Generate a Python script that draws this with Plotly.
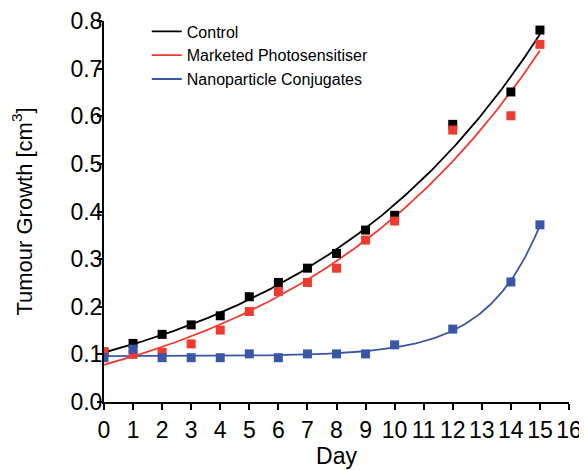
import numpy as np
import plotly.graph_objects as go

days = [0, 1, 2, 3, 4, 5, 6, 7, 8, 9, 10, 12, 14, 15]
control = [0.105, 0.123, 0.142, 0.162, 0.181, 0.221, 0.251, 0.281, 0.312, 0.361, 0.392, 0.583, 0.651, 0.781]
marketed = [0.104, 0.100, 0.104, 0.122, 0.151, 0.190, 0.232, 0.251, 0.281, 0.340, 0.380, 0.571, 0.601, 0.751]
nano = [0.093, 0.111, 0.093, 0.093, 0.093, 0.101, 0.093, 0.101, 0.101, 0.101, 0.120, 0.153, 0.252, 0.372]

names = ["Control", "Marketed Photosensitiser", "Nanoparticle Conjugates"]
colors = ["#000000", "#ee3a2f", "#3a56a6"]
x_ticks = list(range(0, 17))
y_ticks = [0.0, 0.1, 0.2, 0.3, 0.4, 0.5, 0.6, 0.7, 0.8]


def fit_exp(x, y, offset):
    """Least-squares fit of y = c + a*exp(k x) (c = 0 if offset is False)."""
    x = np.asarray(x, float)
    y = np.asarray(y, float)
    best = None
    for k in np.linspace(0.01, 1.5, 3000):
        e = np.exp(k * x)
        if offset:
            A = np.column_stack([np.ones_like(x), e])
        else:
            A = e[:, None]
        coef, *_ = np.linalg.lstsq(A, y, rcond=None)
        r = np.sum((A @ coef - y) ** 2)
        if best is None or r < best[0]:
            best = (r, k, coef)
    _, k, coef = best
    if offset:
        c, a = coef
    else:
        c, a = 0.0, coef[0]
    return lambda t: c + a * np.exp(k * t)


series = [control, marketed, nano]
offsets = [True, True, True]
xs = np.linspace(min(days), max(days), 300)

fig = go.Figure()
for i, (name, ys, col, off) in enumerate(zip(names, series, colors, offsets)):
    f = fit_exp(days, ys, off)
    fig.add_trace(go.Scatter(
        x=xs, y=f(xs), mode="lines", name=name,
        line=dict(color=col, width=1.8), legendgroup=name,
    ))
for name, ys, col in zip(names, series, colors):
    fig.add_trace(go.Scatter(
        x=days, y=ys, mode="markers", name=name, showlegend=False,
        marker=dict(symbol="square", size=9, color=col),
    ))

# the page body adds an 8 px margin, so the figure is 8 px smaller
fig.update_layout(
    width=579, height=462,
    margin=dict(l=96, r=18, t=13, b=68, autoexpand=False),
    paper_bgcolor="white", plot_bgcolor="white",
    font=dict(family="Liberation Sans, Arial, sans-serif", color="black"),
    showlegend=True,
    legend=dict(
        x=0.092, y=1.017, xanchor="left", yanchor="top",
        bgcolor="rgba(0,0,0,0)", font=dict(size=16, color="black"),
        tracegroupgap=10, traceorder="normal",
    ),
)
fig.update_xaxes(
    range=[0, 16], tickvals=x_ticks, ticktext=[str(v) for v in x_ticks],
    showgrid=False, zeroline=False, showline=True, linecolor="black", linewidth=2,
    ticks="outside", ticklen=6, tickwidth=2, tickcolor="black",
    tickfont=dict(size=23), automargin=False,
    title=dict(text="Day", font=dict(size=23), standoff=4),
)
fig.update_yaxes(
    range=[0, 0.8], tickvals=y_ticks, ticktext=[f"{v:.1f}" for v in y_ticks],
    showgrid=False, zeroline=False, showline=True, linecolor="black", linewidth=2,
    ticks="outside", ticklen=5, tickwidth=2, tickcolor="black",
    tickfont=dict(size=23), automargin=False, ticklabelstandoff=-10,
    title=dict(text="Tumour Growth [cm<sup>3</sup>]", font=dict(size=22), standoff=32),
)

fig.write_html("out.html")
